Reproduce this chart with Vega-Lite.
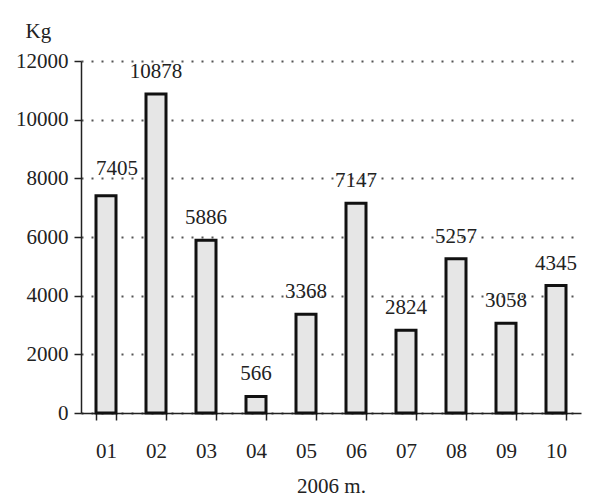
{
  "$schema": "https://vega.github.io/schema/vega-lite/v6.json",
  "width": 500,
  "height": 352,
  "autosize": {"type": "none"},
  "padding": {"left": 81, "top": 61, "right": 21, "bottom": 85},
  "background": "white",
  "config": {
    "font": "Liberation Serif",
    "view": {"stroke": null}
  },
  "data": {
    "values": [
      {"month": "01", "kg": 7405},
      {"month": "02", "kg": 10878},
      {"month": "03", "kg": 5886},
      {"month": "04", "kg": 566},
      {"month": "05", "kg": 3368},
      {"month": "06", "kg": 7147},
      {"month": "07", "kg": 2824},
      {"month": "08", "kg": 5257},
      {"month": "09", "kg": 3058},
      {"month": "10", "kg": 4345}
    ]
  },
  "encoding": {
    "x": {
      "field": "month",
      "type": "ordinal",
      "scale": {"paddingInner": 0.6, "paddingOuter": 0.3},
      "axis": {
        "title": "2006 m.",
        "titleFont": "Liberation Serif",
        "titleFontSize": 21,
        "titleFontWeight": "normal",
        "titleColor": "#222",
        "titleBaseline": "alphabetic",
        "titleY": 79,
        "labelFont": "Liberation Serif",
        "labelAngle": 0,
        "labelFontSize": 21,
        "labelColor": "#222",
        "labelBaseline": "alphabetic",
        "labelPadding": 37,
        "tickSize": 7,
        "tickColor": "#222",
        "tickWidth": 1.5,
        "tickBand": "extent",
        "domainColor": "#222",
        "domainWidth": 1.5
      }
    },
    "y": {
      "field": "kg",
      "type": "quantitative",
      "scale": {"domain": [0, 12000], "nice": false},
      "axis": {
        "values": [0, 2000, 4000, 6000, 8000, 10000, 12000],
        "format": "d",
        "title": "Kg",
        "titleFont": "Liberation Serif",
        "titleAngle": 0,
        "titleAlign": "left",
        "titleBaseline": "alphabetic",
        "titleX": -56,
        "titleY": -24,
        "titleFontSize": 21,
        "titleFontWeight": "normal",
        "titleColor": "#222",
        "labelFont": "Liberation Serif",
        "labelFontSize": 21,
        "labelColor": "#222",
        "labelPadding": 6,
        "tickSize": 7,
        "tickColor": "#222",
        "tickWidth": 1.5,
        "domainColor": "#222",
        "domainWidth": 1.5,
        "grid": true,
        "gridColor": "#555",
        "gridDash": [2, 8],
        "gridWidth": 2
      }
    }
  },
  "layer": [
    {
      "mark": {"type": "bar", "fill": "#e6e6e6", "stroke": "#111", "strokeWidth": 3}
    },
    {
      "transform": [{"filter": "datum.month !== '01'"}],
      "mark": {"type": "text", "font": "Liberation Serif", "baseline": "alphabetic", "dy": -16, "fontSize": 21, "color": "#222"},
      "encoding": {"text": {"field": "kg", "type": "quantitative", "format": "d"}}
    },
    {
      "transform": [{"filter": "datum.month === '01'"}],
      "mark": {"type": "text", "font": "Liberation Serif", "baseline": "alphabetic", "dx": 11, "dy": -21, "fontSize": 21, "color": "#222"},
      "encoding": {"text": {"field": "kg", "type": "quantitative", "format": "d"}}
    }
  ]
}
